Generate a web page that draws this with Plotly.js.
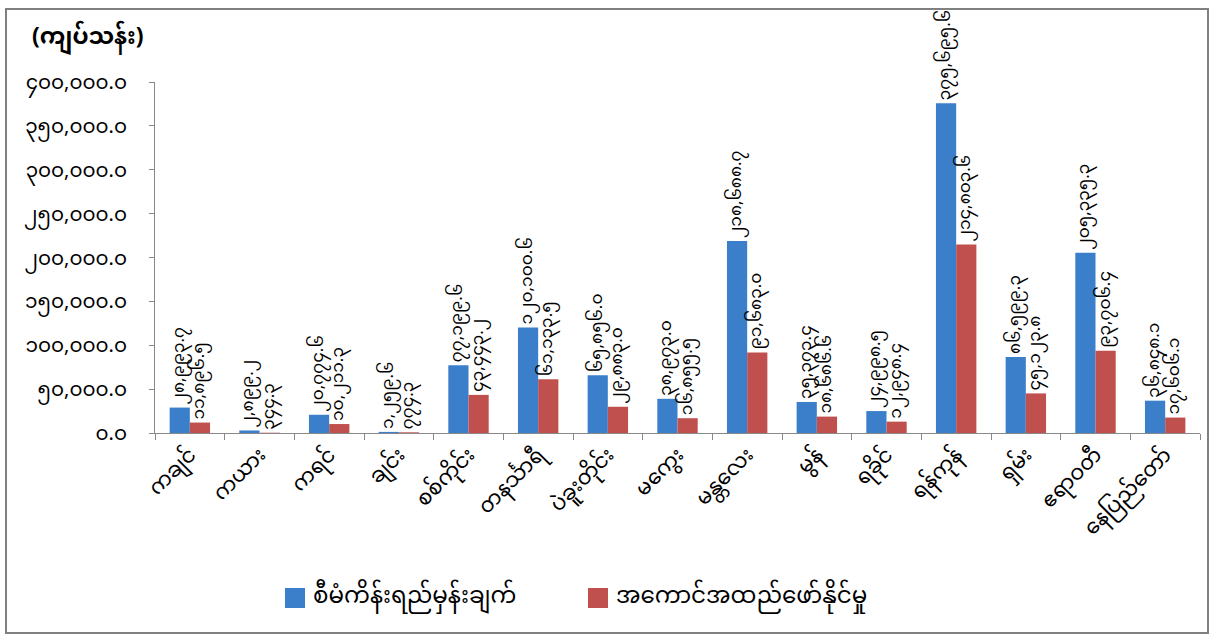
<!DOCTYPE html>
<html>
<head>
<meta charset="utf-8">
<script src="https://cdn.plot.ly/plotly-3.0.1.min.js"></script>
<style>html,body{margin:0;padding:0;background:#fff}#chart{width:1216px;height:640px}</style>
</head>
<body>
<div id="chart"></div>
<script>
const categories = ["ကချင်","ကယား","ကရင်","ချင်း","စစ်ကိုင်း","တနင်္သာရီ","ပဲခူးတိုင်း","မကွေး","မန္တလေး","မွန်","ရခိုင်","ရန်ကုန်","ရှမ်း","ဧရာဝတီ","နေပြည်တော်"];
const seriesNames = ["စီမံကိန်းရည်မှန်းချက်","အကောင်အထည်ဖော်နိုင်မှု"];
const planned = [28993.7, 2899.2, 20774.6, 1259.6, 77199.6, 120100.6, 65856.0, 38973.0, 218688.7, 35373.4, 24998.5, 375695.6, 86599.3, 205335.3, 36848.1];
const achieved = [11896.5, 344.3, 10211.3, 774.3, 43443.2, 61133.5, 29883.0, 16855.5, 91683.0, 18686.6, 12948.4, 214803.6, 45123.8, 93706.4, 17606.1];
const yTickVals = [0, 50000, 100000, 150000, 200000, 250000, 300000, 350000, 400000];
const yTickText = ["၀.၀","၅၀,၀၀၀.၀","၁၀၀,၀၀၀.၀","၁၅၀,၀၀၀.၀","၂၀၀,၀၀၀.၀","၂၅၀,၀၀၀.၀","၃၀၀,၀၀၀.၀","၃၅၀,၀၀၀.၀","၄၀၀,၀၀၀.၀"];
const unitTitle = "(ကျပ်သန်း)";
const colors = ["#3b7fcb", "#c0504d"];

const MY = "Noto Sans Myanmar, Padauk, Myanmar Text, Myanmar3, Noto Sans, sans-serif";
const digits = "၀၁၂၃၄၅၆၇၈၉";
function toMy(v){
  const s = v.toLocaleString("en-US",{minimumFractionDigits:1,maximumFractionDigits:1});
  return s.replace(/[0-9]/g, d => digits[+d]);
}

const common = {
  type: "bar", x: categories, textposition: "outside", textangle: -90,
  constraintext: "none", cliponaxis: false, showlegend: false,
  textfont: {family: MY, size: 17, color: "#000"}
};
const traces = [
  Object.assign({}, common, {name: seriesNames[0], y: planned, text: planned.map(toMy), marker: {color: colors[0]}}),
  Object.assign({}, common, {name: seriesNames[1], y: achieved, text: achieved.map(toMy), marker: {color: colors[1]}})
];

const L = 155, R = 1200, T = 82, B = 433;
const px = x => (x - L) / (R - L);
const py = y => (B - y) / (B - T);

// legend drawn as squares + text
const legX = [285, 588];
const legY = 598;
const shapes = [{
  type: "rect", xref: "paper", yref: "paper",
  x0: px(6), x1: px(1208), y0: py(633), y1: py(9),
  line: {color: "#808080", width: 2}, fillcolor: "rgba(0,0,0,0)", layer: "below"
}];
const annotations = [];
seriesNames.forEach((n, i) => {
  shapes.push({type: "rect", xref: "paper", yref: "paper",
    x0: px(legX[i]), x1: px(legX[i] + 20), y0: py(legY + 10), y1: py(legY - 10),
    line: {width: 0}, fillcolor: colors[i]});
  annotations.push({xref: "paper", yref: "paper", x: px(legX[i] + 26), y: py(legY),
    xanchor: "left", yanchor: "middle", showarrow: false, text: n,
    font: {family: MY, size: 23, color: "#000"}});
});

const layout = {
  width: 1216, height: 640,
  margin: {l: L, r: 1216 - R, t: T, b: 640 - B},
  paper_bgcolor: "#fff", plot_bgcolor: "#fff",
  font: {family: MY, color: "#000"},
  barmode: "group", bargap: 0.42, bargroupgap: 0,
  title: {text: "<b>" + unitTitle + "</b>", font: {family: MY, size: 23, color: "#000"},
          xref: "container", yref: "container", x: 32/1216, xanchor: "left", y: 1 - 36/640, yanchor: "middle"},
  xaxis: {
    type: "category", tickangle: -45, tickfont: {family: MY, size: 21, color: "#000"},
    showline: true, linecolor: "#888", linewidth: 1, ticks: "outside", ticklen: 6, tickcolor: "#888",
    tickson: "boundaries", showgrid: false, automargin: false
  },
  yaxis: {
    range: [0, 400000], tickvals: yTickVals, ticktext: yTickText,
    tickfont: {family: MY, size: 20, color: "#000"},
    showline: true, linecolor: "#888", linewidth: 1, ticks: "outside", ticklen: 5, tickcolor: "#888",
    showgrid: false, zeroline: false, automargin: false, ticklabelstandoff: 18
  },
  showlegend: false,
  shapes: shapes,
  annotations: annotations
};

Plotly.newPlot("chart", traces, layout, {displayModeBar: false, staticPlot: true});
</script>
</body>
</html>
